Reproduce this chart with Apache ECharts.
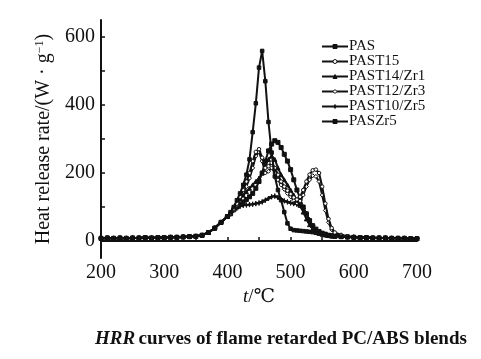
<!DOCTYPE html>
<html><head><meta charset="utf-8">
<script src="https://cdn.jsdelivr.net/npm/echarts@6/dist/echarts.min.js"></script>
<style>html,body{margin:0;padding:0;background:#fff}#c{width:481px;height:359px}</style>
</head><body><div id="c"></div>
<script>
const temps = [200,210,220,230,240,250,260,270,280,290,300,310,320,330,340,350,360,370,380,390,400,
  405,410,415,420,425,430,435,440,445,450,455,460,465,470,475,480,485,490,495,500,505,510,515,520,525,530,535,540,545,550,555,560,565,570,
  580,590,600,610,620,630,640,650,660,670,680,690,700];
const seriesNames = ['PAS','PAST15','PAST14/Zr1','PAST12/Zr3','PAST10/Zr5','PASZr5'];
const pre = [8,9,8,9,8,9,9,10,9,10,10,11,11,12,13,14,17,25,38,55,72];
const PAS = pre.concat([85,100,120,140,165,195,240,320,405,510,559,470,350,260,190,150,120,85,52,36,32,31,30,29,28,27,26,24,22,20,18,16,15,14,
  13,12,11,10,10,9,9,9,8,8,8,7,7]);
const PAST15 = pre.concat([82,95,110,130,150,175,200,235,262,270,245,215,220,230,215,195,175,160,148,138,128,122,130,150,175,195,208,210,200,160,110,65,38,25,
  18,14,12,11,10,10,9,9,9,8,8,8,7]);
const PAST14Zr1 = pre.concat([85,98,112,125,135,145,155,165,175,185,200,220,240,250,240,215,195,180,165,150,135,120,105,85,65,48,35,28,23,20,18,16,15,14,
  13,12,11,10,10,9,9,9,8,8,8,7,7]);
const PAST12Zr3 = pre.concat([80,92,105,120,140,160,185,215,250,262,235,200,205,215,200,180,165,152,140,130,120,112,118,135,160,180,192,190,175,135,90,55,33,22,
  17,13,12,11,10,10,9,9,8,8,8,7,7]);
const PAST10Zr5 = pre.concat([80,90,97,102,105,106,107,108,110,112,115,120,125,130,132,128,122,118,115,112,110,108,105,95,80,62,45,33,26,21,18,16,15,14,
  13,12,11,10,10,9,9,9,8,8,8,7,7]);
const PASZr5 = pre.concat([80,92,100,108,115,122,130,140,155,175,200,235,265,285,295,290,275,255,235,210,180,150,125,100,80,60,45,35,28,23,20,17,15,14,
  13,12,11,10,10,9,9,9,8,8,8,7,7]);
const xTicks = [200,300,400,500,600,700];
const yTicks = [0,200,400,600];

const allData = [PAS,PAST15,PAST14Zr1,PAST12Zr3,PAST10Zr5,PASZr5];
const symbols = ['rect','circle','triangle','diamond','path://M0,-10L2,-2L10,0L2,2L0,10L-2,2L-10,0L-2,-2Z','rect'];
const sizes = [3.5,3.5,4,4,5,4];
const fills = ['#111','#fff','#111','#fff','#111','#111'];
const serif = '"Liberation Serif","DejaVu Serif",serif';

const chart = echarts.init(document.getElementById('c'));
chart.setOption({
  animation:false,
  backgroundColor:'#fff',
  grid:{left:101,top:20,right:64,bottom:101},
  legend:{orient:'vertical',left:316,top:34,itemGap:0,itemWidth:26,itemHeight:5,
    textStyle:{fontFamily:serif,fontSize:15,lineHeight:15,color:'#111',padding:[0,0,0,-4]},
    data:seriesNames.map(n=>({name:n,itemStyle:{borderWidth:1}}))},
  xAxis:{type:'value',min:200,max:700,interval:50,
    axisLine:{lineStyle:{color:'#111',width:2}},
    axisTick:{inside:true,length:4,lineStyle:{color:'#111',width:1.5}},
    axisLabel:{fontFamily:serif,fontSize:20,color:'#111',margin:5,
      formatter:v=>xTicks.includes(v)?String(v):''},
    splitLine:{show:false},
    name:'{i|t}{n|/℃}',nameLocation:'middle',nameGap:25,
    nameTextStyle:{rich:{i:{fontFamily:serif,fontSize:19,fontStyle:'italic',color:'#111'},n:{fontFamily:serif,fontSize:19,color:'#111'}}}},
  yAxis:{type:'value',min:-50,max:650,
    axisLine:{show:true,lineStyle:{color:'#111',width:2}},
    axisTick:{show:true,inside:true,length:4,lineStyle:{color:'#111',width:1.5},customValues:[0,100,200,300,400,500,600]},
    axisLabel:{fontFamily:serif,fontSize:20,color:'#111',margin:6,customValues:yTicks},
    splitLine:{show:false},
    name:'Heat release rate/(W · g{s|−1})',nameLocation:'middle',nameGap:44,
    nameTextStyle:{fontFamily:serif,fontSize:20,color:'#111',rich:{s:{fontFamily:serif,fontSize:12,color:'#111',verticalAlign:'top',padding:[0,0,9,0]}}}},
  series:allData.map((d,i)=>({
    name:seriesNames[i],type:'line',
    data:temps.map((t,j)=>[t,d[j]]),
    symbol:symbols[i],symbolSize:sizes[i],showAllSymbol:true,
    lineStyle:{color:'#111',width:2},
    itemStyle:{color:fills[i],borderColor:'#111',borderWidth:1},
    z:10-i
  })),
  graphic:[{type:'text',left:95,top:330,
    style:{text:'{i|HRR} {b|curves of flame retarded PC/ABS blends}',
      rich:{i:{fontFamily:serif,fontSize:19,fontWeight:'bold',fontStyle:'italic',fill:'#111'},
            b:{fontFamily:serif,fontSize:19,fontWeight:'bold',fill:'#111'}}}}]
});
</script></body></html>
